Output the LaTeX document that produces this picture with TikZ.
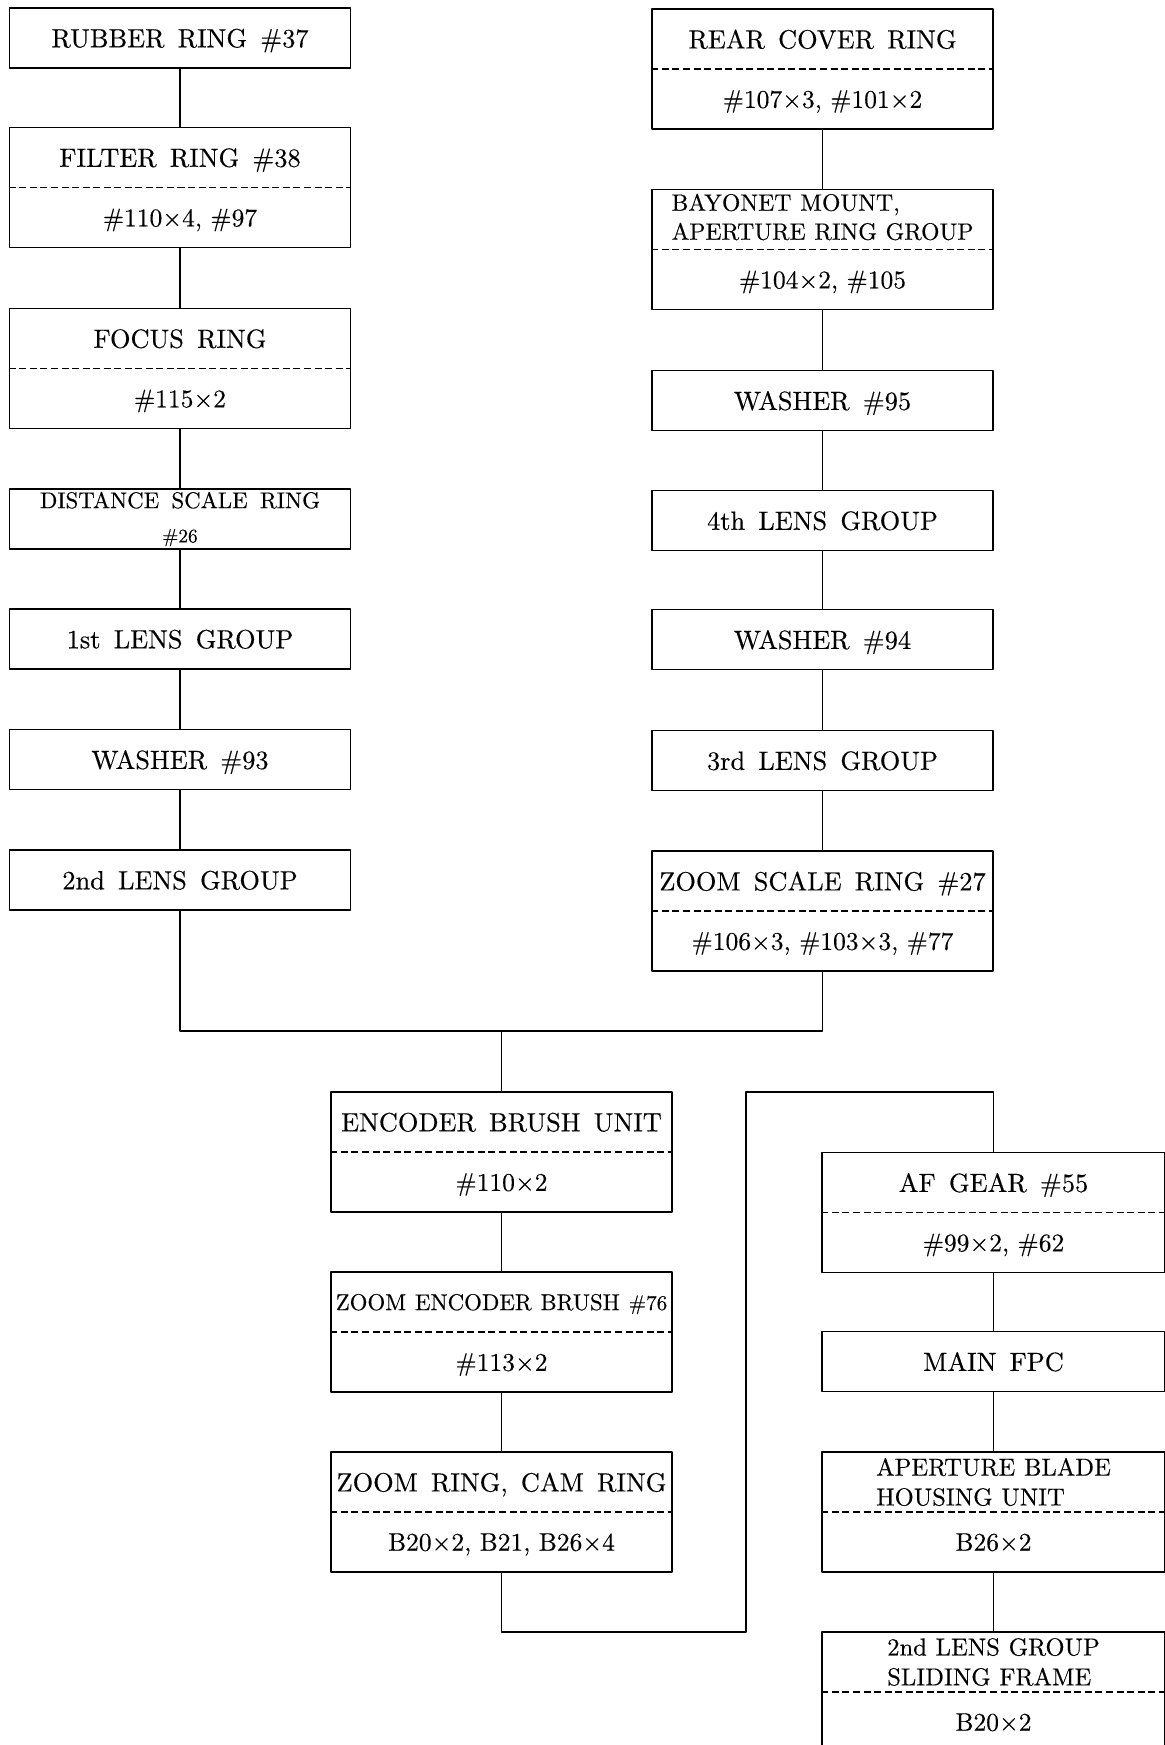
\documentclass[tikz,border=0pt]{standalone}
\usepackage{fontspec}
\setmainfont{lmroman10-regular}[Extension=.otf,FakeBold=0.3]
\usepackage{tikz}

\newcommand\wsp[1]{\spaceskip #1 plus 1pt\relax}

\tikzset{
  part/.style={draw,line width=0.8pt,minimum width=6.82cm,minimum height=1.2cm,inner sep=0pt},
  dbl/.style={part,minimum height=2.4cm},
  wide/.style={minimum width=6.86cm},
  txt/.style={inner sep=0pt,text depth=0pt,font=\fontsize{15}{18}\selectfont\wsp{7.5pt}},
  num/.style={inner sep=0pt,text depth=0pt,font=\fontsize{14.5}{18}\selectfont},
  smalltxt/.style={inner sep=0pt,text depth=0pt,font=\fontsize{13}{15}\selectfont\wsp{5pt}},
  twoline/.style={inner sep=0pt,align=left,font=\fontsize{14}{17}\selectfont\wsp{5pt}},
  cut/.style={line width=0.6pt,dash pattern=on 4pt off 2pt},
  link/.style={line width=0.6pt}
}

\begin{document}
\begin{tikzpicture}[x=0.02cm,y=-0.02cm,line join=round]
  \useasboundingbox (0,0) rectangle (1164,1745);
  % left column
  \node[part,txt] (rubber) at (180,38) {RUBBER RING \#37};
  \node[dbl] (filter) at (180,187.5) {};
  \node[txt] (filter-t) at ([yshift=0.6cm]filter.center) {FILTER RING \#38};
  \node[num] (filter-b) at ([yshift=-0.6cm]filter.center) {\#110×4, \#97};
  \draw[cut] (filter.west) -- (filter.east);
  \node[dbl] (focus) at (180,368.5) {};
  \node[txt] (focus-t) at ([yshift=0.6cm]focus.center) {FOCUS RING};
  \node[num] (focus-b) at ([yshift=-0.6cm]focus.center) {\#115×2};
  \draw[cut] (focus.west) -- (focus.east);
  \node[part,align=center,font=\fontsize{13}{19.5}\selectfont\wsp{7pt}] (distance) at (180,519)
    {DISTANCE SCALE RING\\{\fontsize{11}{12}\selectfont\#26}};
  \node[part,txt] (lens1) at (180,639) {1st LENS GROUP};
  \node[part,txt] (washer93) at (180,759.5) {WASHER \#93};
  \node[part,txt] (lens2) at (180,880) {2nd LENS GROUP};
  \draw[link] (rubber) -- (filter);
  \draw[link] (filter) -- (focus);
  \draw[link] (focus) -- (distance);
  \draw[link] (distance) -- (lens1);
  \draw[link] (lens1) -- (washer93);
  \draw[link] (washer93) -- (lens2);

  % right column
  \node[dbl] (rear) at (822.5,69) {};
  \node[txt] (rear-t) at ([yshift=0.6cm]rear.center) {REAR COVER RING};
  \node[num] (rear-b) at ([yshift=-0.6cm]rear.center) {\#107×3, \#101×2};
  \draw[cut] (rear.west) -- (rear.east);
  \node[dbl] (bayonet) at (822.5,249.5) {};
  \node[inner sep=0pt,align=left,font=\fontsize{13.5}{16.5}\selectfont\wsp{5pt}] (bayonet-t)
    at ([yshift=0.65cm]bayonet.center) {BAYONET MOUNT,\\APERTURE RING GROUP};
  \node[num] (bayonet-b) at ([yshift=-0.6cm]bayonet.center) {\#104×2, \#105};
  \draw[cut] (bayonet.west) -- (bayonet.east);
  \node[part,txt] (washer95) at (822.5,400.5) {WASHER \#95};
  \node[part,txt] (lens4) at (822.5,520.5) {4th LENS GROUP};
  \node[part,txt] (washer94) at (822.5,639.5) {WASHER \#94};
  \node[part,txt] (lens3) at (822.5,760.5) {3rd LENS GROUP};
  \node[dbl] (zoomscale) at (822.5,911) {};
  \node[txt] (zoomscale-t) at ([yshift=0.6cm]zoomscale.center) {ZOOM SCALE RING \#27};
  \node[num] (zoomscale-b) at ([yshift=-0.6cm]zoomscale.center) {\#106×3, \#103×3, \#77};
  \draw[cut] (zoomscale.west) -- (zoomscale.east);
  \draw[link] (rear) -- (bayonet);
  \draw[link] (bayonet) -- (washer95);
  \draw[link] (washer95) -- (lens4);
  \draw[link] (lens4) -- (washer94);
  \draw[link] (washer94) -- (lens3);
  \draw[link] (lens3) -- (zoomscale);

  % join of both columns
  \coordinate (jl) at (180,1031);
  \coordinate (jr) at (822.5,1031);
  \coordinate (jm) at (501.5,1031);
  \draw[link] (lens2) -- (jl) -- (jr) -- (zoomscale);

  % middle column
  \node[dbl] (encoder) at (501.5,1152) {};
  \node[txt] (encoder-t) at ([yshift=0.6cm]encoder.center) {ENCODER BRUSH UNIT};
  \node[num] (encoder-b) at ([yshift=-0.6cm]encoder.center) {\#110×2};
  \draw[cut] (encoder.west) -- (encoder.east);
  \node[dbl] (zoomenc) at (501.5,1332) {};
  \node[smalltxt] (zoomenc-t) at ([yshift=0.6cm]zoomenc.center) {ZOOM ENCODER BRUSH {\fontsize{12}{14}\selectfont\#76}};
  \node[num] (zoomenc-b) at ([yshift=-0.6cm]zoomenc.center) {\#113×2};
  \draw[cut] (zoomenc.west) -- (zoomenc.east);
  \node[dbl] (zoomring) at (501.5,1512) {};
  \node[txt] (zoomring-t) at ([yshift=0.6cm]zoomring.center) {ZOOM RING, CAM RING};
  \node[num] (zoomring-b) at ([yshift=-0.6cm]zoomring.center) {B20×2, B21, B26×4};
  \draw[cut] (zoomring.west) -- (zoomring.east);
  \draw[link] (jm) -- (encoder);
  \draw[link] (encoder) -- (zoomenc);
  \draw[link] (zoomenc) -- (zoomring);

  % far right column
  \node[dbl,wide] (afgear) at (993.5,1212.5) {};
  \node[txt] (afgear-t) at ([yshift=0.6cm]afgear.center) {AF GEAR \#55};
  \node[num] (afgear-b) at ([yshift=-0.6cm]afgear.center) {\#99×2, \#62};
  \draw[cut] (afgear.west) -- (afgear.east);
  \node[part,wide,txt] (mainfpc) at (993.5,1361.5) {MAIN FPC};
  \node[dbl,wide] (aperture) at (993.5,1512) {};
  \node[twoline] (aperture-t) at ([yshift=0.6cm]aperture.center) {APERTURE BLADE\\HOUSING UNIT};
  \node[num] (aperture-b) at ([yshift=-0.6cm]aperture.center) {B26×2};
  \draw[cut] (aperture.west) -- (aperture.east);
  \node[dbl,wide] (slide) at (993.5,1692) {};
  \node[twoline] (slide-t) at ([yshift=0.6cm]slide.center) {2nd LENS GROUP\\SLIDING FRAME};
  \node[num] (slide-b) at ([yshift=-0.6cm]slide.center) {B20×2};
  \draw[cut] (slide.west) -- (slide.east);

  \coordinate (b1) at (501.5,1632);
  \coordinate (b2) at (746,1632);
  \coordinate (b3) at (746,1092);
  \coordinate (b4) at (993.5,1092);
  \draw[link] (zoomring) -- (b1) -- (b2) -- (b3) -- (b4) -- (afgear);
  \draw[link] (afgear) -- (mainfpc);
  \draw[link] (mainfpc) -- (aperture);
  \draw[link] (aperture) -- (slide);
\end{tikzpicture}
\end{document}
